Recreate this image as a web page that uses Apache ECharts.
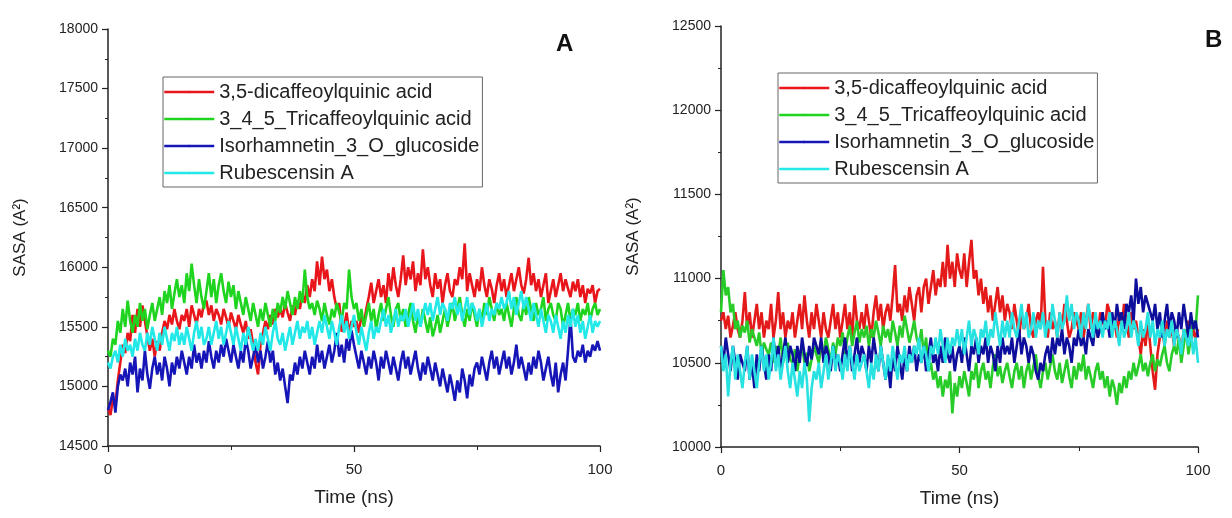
<!DOCTYPE html>
<html><head><meta charset="utf-8">
<script src="https://cdn.jsdelivr.net/npm/echarts/dist/echarts.min.js"></script>
<style>html,body{margin:0;padding:0;background:#fff}#c{width:1232px;height:518px}</style>
</head><body><div id="c"></div>
<script>
// ---------- data ----------
const seriesNames = ['3,5-dicaffeoylquinic acid', '3_4_5_Tricaffeoylquinic acid', 'Isorhamnetin_3_O_glucoside', 'Rubescensin A'];
const panelLabels = ['A', 'B'];
const STEP_NS = 0.5; // sampling step of the trajectories (ns)
const xTickLabels = [0, 50, 100];
const yTicksA = [14500, 15000, 15500, 16000, 16500, 17000, 17500, 18000];
const yTicksB = [10000, 10500, 11000, 11500, 12000, 12500];

// Panel A (SASA, Å²)
const redA = [
14820,14760,14900,14850,15050,15200,15350,15280,15450,15380,
15600,15450,15650,15500,15680,15550,15420,15300,15400,15250,
15380,15300,15450,15550,15480,15600,15520,15650,15550,15480,
15600,15550,15650,15500,15680,15600,15520,15650,15580,15700,
15720,15600,15680,15550,15650,15600,15520,15650,15580,15500,
15620,15550,15480,15600,15520,15450,15550,15400,15480,15350,
15200,15100,15350,15450,15550,15480,15600,15520,15650,15580,
15650,15580,15700,15620,15550,15680,15600,15720,15650,15780,
15700,15850,15750,15900,15800,16050,15850,16090,15900,15980,
15800,15900,15750,15650,15700,15460,15500,15620,15450,15550,
15500,15550,15450,15600,15520,15650,15750,15870,15700,15800,
15900,15750,15850,15700,15950,15800,16000,15850,15750,15900,
16100,15850,16000,15900,16050,15800,15950,15850,16150,15900,
16000,15850,15750,15950,15820,15900,15700,15850,15950,15800,
15750,15900,15850,16000,15900,16200,15800,15950,15850,15750,
15900,15800,16000,15850,15750,15900,15820,15700,15850,15950,
15800,15900,15750,15850,15950,15800,15900,16000,15850,15780,
15900,16080,15850,15950,15800,15900,15750,15850,15950,15700,
15800,15900,15750,15850,15950,15800,15900,15820,15750,15880,
15800,15900,15750,15850,15700,15820,15780,15850,15700,15800,
15820];
const greenA = [
15300,15250,15400,15350,15550,15450,15650,15500,15720,15550,
15450,15600,15500,15700,15550,15650,15480,15600,15700,15550,
15650,15750,15600,15800,15700,15850,15650,15780,15900,15750,
15850,15700,15950,15800,16030,15850,15700,15900,15750,15650,
15800,15950,15750,15900,15700,15850,15950,15800,15700,15880,
15750,15850,15650,15800,15700,15600,15750,15650,15550,15700,
15600,15500,15650,15550,15700,15600,15500,15650,15550,15700,
15620,15750,15650,15800,15700,15600,15750,15650,15800,15700,
15980,15750,15650,15700,15600,15720,15650,15550,15700,15600,
15520,15650,15580,15700,15620,15550,15700,15650,15980,15750,
15650,15700,15550,15650,15500,15600,15700,15550,15650,15480,
15600,15700,15550,15650,15750,15600,15500,15650,15700,15550,
15650,15500,15600,15700,15550,15450,15600,15500,15650,15550,
15450,15580,15420,15500,15600,15450,15550,15650,15500,15600,
15700,15550,15650,15750,15600,15500,15650,15550,15700,15600,
15500,15650,15550,15700,15600,15750,15650,15550,15700,15600,
15650,15550,15700,15600,15500,15650,15750,15600,15550,15700,
15600,15750,15650,15550,15700,15600,15650,15750,15550,15650,
15700,15600,15550,15700,15650,15500,15600,15700,15550,15650,
15600,15700,15550,15650,15600,15700,15550,15650,15700,15600,
15650];
const blueA = [
14800,14870,14950,14780,15000,15100,15050,15150,15000,15200,
15100,15250,14950,15150,15050,15300,15100,14980,15150,15250,
15100,15200,15050,15250,15150,15000,15200,15100,15250,15150,
15300,15200,15100,15250,15150,15350,15200,15280,15150,15300,
15200,15380,15250,15150,15300,15200,15350,15250,15400,15300,
15200,15350,15250,15150,15300,15200,15400,15300,15150,15250,
15350,15200,15300,15150,15250,15380,15200,15300,15100,15200,
15050,15150,15000,14860,15100,15050,15200,15100,15250,15150,
15300,15200,15100,15250,15150,15350,15200,15300,15150,15250,
15350,15200,15300,15450,15250,15350,15200,15400,15300,15470,
15350,15250,15150,15300,15200,15100,15250,15150,15300,15200,
15050,15250,15150,15300,15200,15100,15250,15150,15050,15200,
15300,15150,15250,15100,15200,15300,15150,15050,15200,15100,
15250,15150,15050,15200,15100,15000,15150,15050,14950,15100,
15000,14880,15050,14950,15150,15050,14900,15100,15000,15150,
15200,15100,15250,15150,15050,15200,15300,15150,15250,15100,
15200,15300,15150,15250,15100,15200,15350,15150,15250,15150,
15050,15200,15100,15250,15150,15300,15200,15050,15150,15250,
15100,15000,15200,14950,15100,15200,15050,15300,15580,15250,
15200,15300,15250,15350,15200,15300,15250,15350,15300,15380,
15300];
const cyanA = [
15200,15150,15250,15300,15200,15350,15250,15400,15300,15350,
15250,15400,15300,15450,15350,15300,15450,15350,15500,15400,
15300,15450,15350,15500,15400,15300,15450,15380,15500,15350,
15450,15350,15500,15400,15300,15450,15550,15400,15500,15350,
15400,15500,15350,15450,15550,15400,15500,15350,15450,15550,
15450,15350,15500,15400,15300,15450,15350,15500,15400,15300,
15400,15300,15450,15350,15500,15400,15300,15450,15550,15400,
15350,15450,15300,15400,15500,15350,15450,15550,15400,15500,
15450,15550,15400,15500,15350,15450,15550,15450,15600,15500,
15400,15550,15450,15350,15500,15600,15450,15550,15400,15500,
15600,15450,15350,15500,15400,15300,15450,15550,15400,15500,
15450,15550,15650,15500,15600,15450,15550,15650,15500,15600,
15550,15650,15500,15600,15700,15550,15650,15500,15600,15700,
15600,15700,15550,15650,15750,15600,15700,15650,15550,15700,
15650,15750,15600,15700,15550,15650,15750,15600,15700,15650,
15550,15650,15500,15600,15700,15550,15650,15600,15700,15650,
15750,15650,15700,15800,15650,15750,15600,15700,15800,15650,
15750,15650,15550,15700,15600,15500,15650,15550,15450,15600,
15550,15450,15600,15500,15400,15550,15450,15600,15500,15650,
15500,15600,15450,15550,15400,15500,15600,15450,15550,15500,
15550];

// Panel B (SASA, Å²)
const redB = [
10750,10800,10700,10780,10650,10720,10800,10700,10650,10750,
10920,10700,10800,10650,10750,10850,10700,10800,10650,10750,
10700,10850,10650,10750,10920,10700,10800,10650,10750,10700,
10800,10650,10750,10850,10700,10900,10750,10650,10800,10700,
10850,10750,10650,10800,10700,10650,10750,10850,10700,10800,
10650,10750,10850,10700,10800,10650,10900,10750,10700,10800,
10700,10850,10750,10650,10800,10900,10750,10850,10700,10800,
10850,10750,10900,11080,10800,10850,10750,10900,10800,10950,
10850,10750,10900,10950,10800,10950,11000,10850,10950,11050,
10900,11000,10950,11100,10950,11200,11000,11100,10950,11150,
11050,11000,11150,10950,11100,11230,11000,11050,10900,11000,
10850,10950,10800,10900,10750,10850,10950,10800,10900,10750,
10850,10800,10700,10850,10750,10650,10800,10700,10750,10850,
10700,10650,10750,10800,10700,11070,10750,10650,10800,10700,
10750,10650,10800,10700,10850,10750,10650,10700,10800,10750,
10700,10800,10650,10750,10850,10700,10800,10750,10650,10800,
10750,10700,10850,10800,10700,10750,10650,10800,10700,10850,
10750,10650,10800,10700,10750,10650,10550,10700,10600,10750,
10600,10450,10340,10550,10650,10700,10600,10750,10650,10700,
10600,10700,10650,10550,10700,10650,10750,10600,10700,10650,
10700];
const greenB = [
10800,11050,10900,10950,10800,10850,10700,10750,10650,10720,
10680,10750,10620,10700,10650,10600,10680,10550,10620,10580,
10550,10620,10500,10600,10550,10650,10500,10580,10620,10520,
10500,10580,10450,10550,10600,10500,10560,10450,10520,10600,
10550,10500,10600,10550,10650,10580,10500,10620,10550,10650,
10600,10680,10550,10650,10720,10600,10680,10750,10620,10700,
10650,10720,10600,10700,10650,10750,10680,10600,10720,10650,
10700,10620,10750,10680,10600,10720,10650,10780,10700,10620,
10680,10750,10650,10600,10700,10550,10650,10450,10500,10400,
10450,10350,10420,10300,10400,10350,10450,10200,10380,10300,
10420,10350,10450,10380,10300,10450,10400,10500,10350,10450,
10500,10400,10450,10350,10480,10550,10420,10480,10380,10450,
10500,10420,10350,10450,10500,10400,10480,10350,10450,10500,
10400,10480,10550,10420,10350,10450,10500,10400,10480,10550,
10450,10400,10500,10380,10450,10520,10420,10350,10480,10400,
10500,10450,10550,10400,10480,10420,10350,10450,10500,10400,
10450,10350,10420,10300,10400,10350,10250,10380,10320,10420,
10350,10450,10400,10500,10420,10480,10550,10450,10500,10420,
10500,10550,10450,10520,10480,10550,10600,10500,10450,10550,
10600,10550,10650,10500,10600,10700,10550,10650,10750,10700,
10900];
const blueB = [
10600,10500,10650,10550,10450,10600,10500,10400,10550,10500,
10450,10600,10400,10500,10350,10550,10450,10600,10500,10400,
10550,10450,10650,10500,10600,10450,10550,10650,10500,10600,
10550,10450,10600,10500,10650,10550,10480,10600,10520,10650,
10600,10550,10650,10500,10600,10550,10450,10600,10500,10550,
10450,10550,10650,10500,10600,10450,10550,10650,10500,10600,
10550,10450,10600,10500,10650,10550,10450,10600,10500,10400,
10500,10350,10550,10450,10600,10500,10400,10550,10450,10600,
10500,10600,10450,10550,10500,10600,10450,10550,10650,10500,
10550,10450,10600,10500,10650,10550,10500,10600,10450,10550,
10600,10500,10650,10550,10450,10600,10550,10650,10500,10600,
10550,10650,10500,10600,10550,10450,10600,10500,10650,10550,
10600,10550,10650,10500,10600,10700,10550,10650,10600,10500,
10600,10550,10450,10400,10500,10450,10550,10600,10500,10650,
10550,10650,10600,10700,10550,10650,10600,10500,10650,10600,
10700,10600,10650,10550,10700,10650,10600,10750,10650,10700,
10800,10700,10750,10650,10800,10700,10850,10750,10800,10700,
10850,10800,10900,10750,11000,10850,10950,10800,10900,10850,
10800,10750,10850,10700,10800,10650,10750,10850,10700,10800,
10750,10650,10800,10700,10850,10750,10650,10800,10700,10750,
10650];
const cyanB = [
10600,10450,10550,10300,10500,10600,10400,10550,10450,10350,
10500,10600,10400,10550,10450,10350,10500,10600,10450,10550,
10400,10500,10650,10450,10550,10400,10500,10600,10450,10350,
10500,10400,10300,10450,10350,10500,10400,10150,10350,10450,
10400,10500,10350,10450,10550,10400,10500,10600,10450,10550,
10500,10400,10550,10450,10600,10500,10400,10550,10450,10500,
10550,10450,10350,10500,10400,10550,10450,10600,10500,10400,
10550,10450,10600,10500,10400,10550,10500,10600,10450,10550,
10500,10600,10550,10650,10500,10600,10550,10450,10600,10550,
10650,10550,10700,10600,10500,10650,10550,10650,10600,10700,
10600,10700,10550,10650,10750,10600,10700,10650,10550,10700,
10650,10750,10600,10700,10650,10800,10700,10600,10750,10650,
10750,10650,10800,10700,10650,10750,10850,10700,10800,10650,
10700,10800,10650,10750,10700,10800,10650,10750,10700,10850,
10750,10650,10800,10700,10750,10900,10750,10850,10700,10800,
10750,10650,10800,10700,10850,10750,10650,10800,10700,10750,
10650,10750,10700,10800,10650,10750,10700,10600,10750,10650,
10700,10800,10650,10750,10700,10600,10750,10650,10700,10800,
10650,10750,10600,10700,10650,10750,10600,10700,10650,10750,
10600,10700,10650,10550,10700,10650,10600,10700,10550,10650,
10500];

// ---------- chart ----------
const colorsA = ['#e8161b', '#1ed41e', '#1616b8', '#22e8e8'];
const colorsB = ['#e41a1a', '#28cc28', '#0e0e9c', '#28e2e2'];
const toPairs = arr => arr.map((v, i) => [i * STEP_NS, v]);
const FONT = 'Liberation Sans, Arial, sans-serif';

function xAxisFor(gridIndex) {
  return {
    type: 'value', gridIndex, min: xTickLabels[0], max: xTickLabels[xTickLabels.length - 1], interval: 50,
    name: 'Time (ns)', nameLocation: 'middle', nameGap: 42,
    nameTextStyle: { fontFamily: FONT, fontSize: 19, color: '#222' },
    axisLine: { show: true, lineStyle: { color: '#222', width: 1.5 } },
    axisTick: { show: true, inside: false, length: 6, lineStyle: { color: '#222', width: 1.2 } },
    minorTick: { show: true, splitNumber: 2, length: 4, lineStyle: { color: '#222', width: 1 } },
    axisLabel: { fontFamily: FONT, fontSize: 15, color: '#222', margin: 16 },
    splitLine: { show: false }
  };
}
function yAxisFor(gridIndex, ticks) {
  return {
    type: 'value', gridIndex, min: ticks[0], max: ticks[ticks.length - 1], interval: 500,
    name: 'SASA (A\u00b2)', nameLocation: 'middle', nameGap: 79,
    nameTextStyle: { fontFamily: FONT, fontSize: 17, color: '#222' },
    axisLine: { show: true, lineStyle: { color: '#222', width: 1.5 } },
    axisTick: { show: true, inside: false, length: 6, lineStyle: { color: '#222', width: 1.2 } },
    minorTick: { show: true, splitNumber: 2, length: 3, lineStyle: { color: '#222', width: 1 } },
    axisLabel: { fontFamily: FONT, fontSize: 14, color: '#222', margin: 10, formatter: v => String(v) },
    splitLine: { show: false }
  };
}
function lineSeries(name, data, color, idx) {
  return {
    type: 'line', name, data: toPairs(data), xAxisIndex: idx, yAxisIndex: idx,
    showSymbol: false, symbol: 'none', animation: false,
    lineStyle: { color, width: 2.6 }, itemStyle: { color }
  };
}
function legendFor(left, top) {
  return {
    orient: 'vertical', left, top, data: seriesNames,
    itemWidth: 50, itemHeight: 3, itemGap: 7, padding: [5, 3, 4, 0],
    borderColor: '#666', borderWidth: 1, selectedMode: false,
    textStyle: { fontFamily: FONT, fontSize: 20, color: '#222', lineHeight: 20 },
    lineStyle: { width: 2.5 }
  };
}

const seriesA = [redA, greenA, blueA, cyanA];
const seriesB = [redB, greenB, blueB, cyanB];

const chart = echarts.init(document.getElementById('c'), null, { renderer: 'canvas' });
chart.setOption({
  animation: false,
  backgroundColor: '#fff',
  grid: [
    { left: 108, top: 29, width: 492, height: 417 },
    { left: 721, top: 26, width: 477, height: 421 }
  ],
  xAxis: [xAxisFor(0), xAxisFor(1)],
  yAxis: [yAxisFor(0, yTicksA), yAxisFor(1, yTicksB)],
  legend: [legendFor(163, 77), legendFor(778, 73)],
  graphic: [
    { type: 'text', left: 556, top: 32, style: { text: panelLabels[0], font: 'bold 24px ' + FONT, fill: '#111' } },
    { type: 'text', left: 1205, top: 28, style: { text: panelLabels[1], font: 'bold 24px ' + FONT, fill: '#111' } }
  ],
  series: [
    ...seriesA.map((d, i) => lineSeries(seriesNames[i], d, colorsA[i], 0)),
    ...seriesB.map((d, i) => lineSeries(seriesNames[i], d, colorsB[i], 1))
  ]
});
</script>
</body></html>
